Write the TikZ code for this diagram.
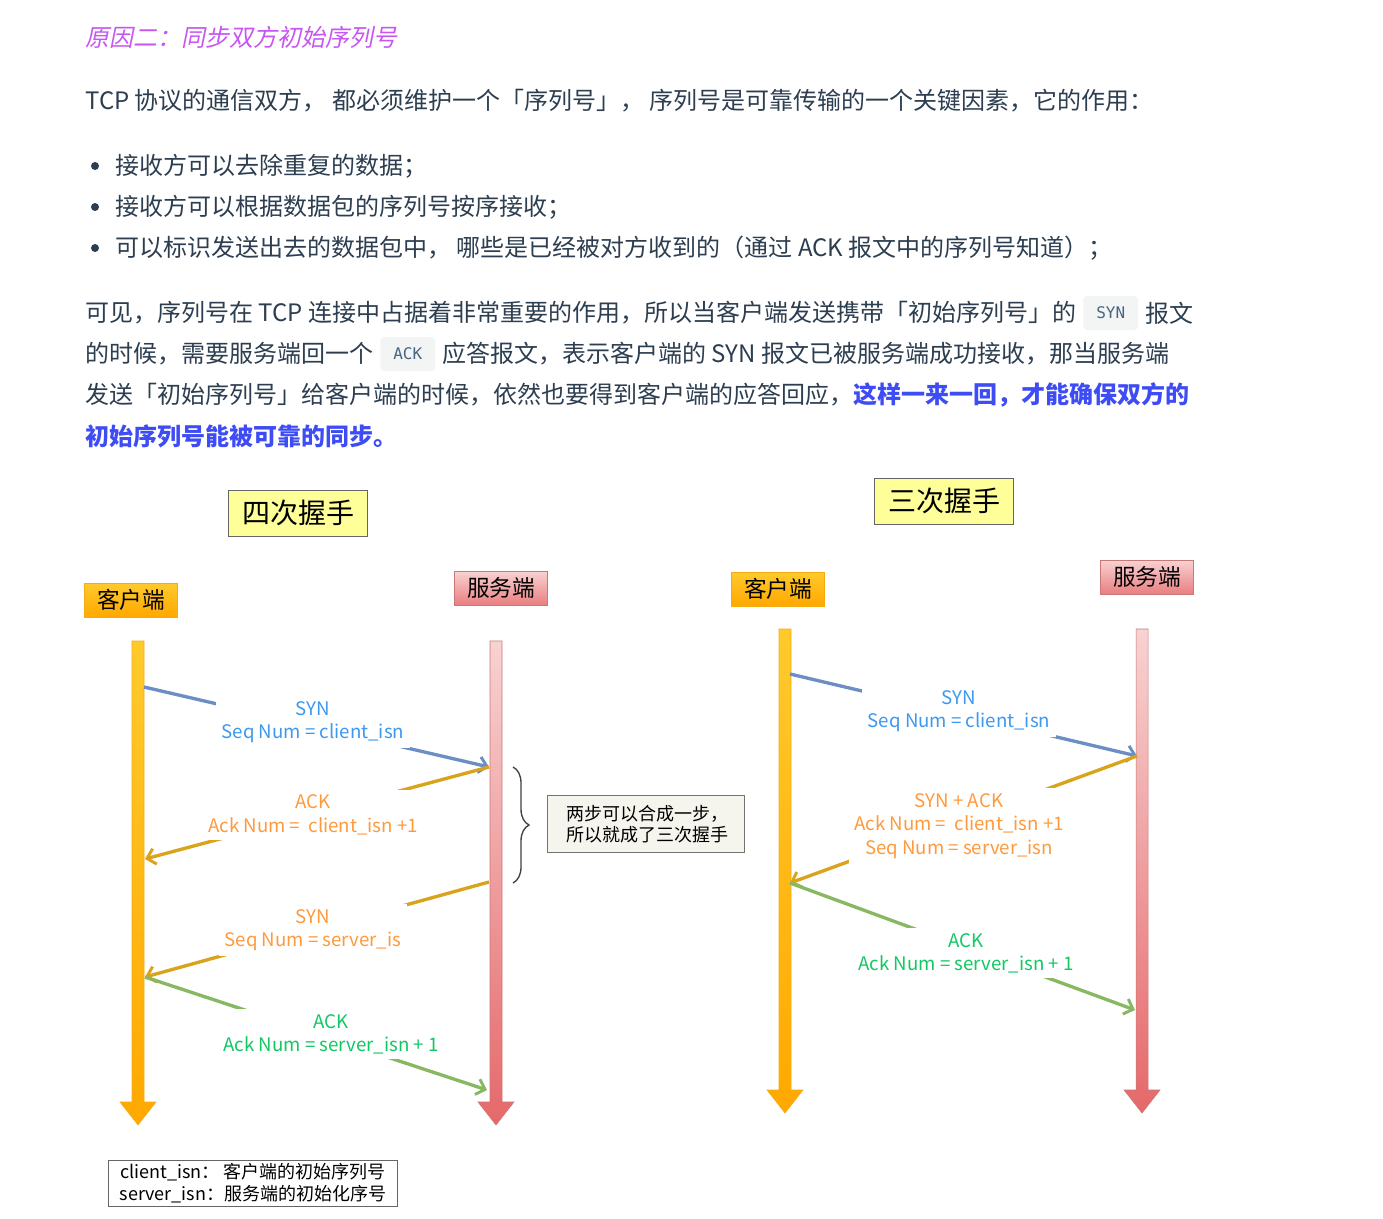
\documentclass[tikz,border=0pt]{standalone}
\usepackage{fontspec}
\setmainfont{Noto Sans CJK SC}
\newfontfamily\slantfont{Noto Sans CJK SC}[FakeSlant=0.2]
\newfontfamily\codefont{DejaVu Sans Mono}
\usetikzlibrary{positioning,arrows.meta,decorations.pathreplacing}

\definecolor{bodytext}{HTML}{2C3E50}
\definecolor{headpurple}{HTML}{C856F2}
\definecolor{strongblue}{HTML}{3E4CF5}
\definecolor{codetext}{HTML}{476582}
\definecolor{codebg}{HTML}{F3F4F4}
\definecolor{titleyellow}{HTML}{FFFF99}
\definecolor{notebg}{HTML}{F5F5EE}
\definecolor{synblue}{HTML}{6C8EC4}
\definecolor{msggold}{HTML}{D9A41C}
\definecolor{msggreen}{HTML}{88B862}
\definecolor{lblblue}{HTML}{3D98F0}
\definecolor{lblorange}{HTML}{FF9A3C}
\definecolor{lblgreen}{HTML}{12C863}
\definecolor{clienttop}{HTML}{FFCA2C}
\definecolor{clientbot}{HTML}{FFA800}
\definecolor{clientline}{HTML}{F2AE10}
\definecolor{servertop}{HTML}{F8D2D2}
\definecolor{serverbot}{HTML}{E5686A}
\definecolor{serverline}{HTML}{C97878}

\tikzset{
  body/.style={anchor=west, inner sep=0pt, text=bodytext, font=\fontsize{18}{21}\selectfont},
  code/.style={fill=codebg, rounded corners=3pt, text=codetext, inner sep=0pt,
    font=\codefont\fontsize{12}{14}\selectfont, minimum width=41pt, minimum height=25.5pt},
  titlebox/.style={draw=black!60, fill=titleyellow, font=\fontsize{21}{24}\selectfont,
    minimum width=104pt, minimum height=34.5pt, inner sep=0pt},
  clientbox/.style={draw=clientline, top color=clienttop, bottom color=clientbot,
    font=\fontsize{17}{20}\selectfont, minimum width=70pt, minimum height=25.5pt, inner sep=0pt},
  serverbox/.style={draw=serverline, top color=servertop, bottom color=serverbot!85!white,
    font=\fontsize{17}{20}\selectfont, minimum width=70pt, minimum height=25.5pt, inner sep=0pt},
  msg/.style={line width=2.5pt, -{Straight Barb[length=6pt, width=12pt, line width=2.2pt]}},
  lbl/.style={fill=white, align=center, inner xsep=4pt, inner ysep=4pt, font=\fontsize{14}{17.5}\selectfont},
  notebox/.style={draw=black!55, fill=notebg, align=left, font=\fontsize{13.5}{16}\selectfont,
    minimum width=148pt, minimum height=43pt, inner sep=0pt},
  legend/.style={draw=black!60, align=center, font=\fontsize{13.5}{16}\selectfont,
    minimum width=217pt, minimum height=34.5pt, inner sep=0pt}
}

% one time line: x, top, tip, top colour, bottom colour, border
\newcommand\timeline[6]{%
  \shade[top color=#4, bottom color=#5, draw=#6, line width=0.4pt]
    (#1-6,#2) -- (#1+6,#2) -- (#1+6,#3-23) -- (#1+18,#3-23) -- (#1,#3)
    -- (#1-18,#3-23) -- (#1-6,#3-23) -- cycle;}

\begin{document}
\begin{tikzpicture}[x=0.75pt, y=-0.75pt]
  \fill[white] (0,0) rectangle (1383,1219);
  \useasboundingbox (0,0) rectangle (1383,1219);

  % text above the diagram
  \node[anchor=west, inner sep=0pt, text=headpurple, font=\slantfont\fontsize{18}{21}\selectfont]
    (reason) at (85,37) {原因二：同步双方初始序列号};
  \node[body] (intro) at (85,101) {TCP 协议的通信双方， 都必须维护一个「序列号」， 序列号是可靠传输的一个关键因素，它的作用：};
  \foreach \y in {166,207,248}
    \fill[bodytext] (95,\y) circle (4);
  \node[body] (use1) at (115,166) {接收方可以去除重复的数据；};
  \node[body] (use2) at (115,207) {接收方可以根据数据包的序列号按序接收；};
  \node[body] (use3) at (115,248) {可以标识发送出去的数据包中， 哪些是已经被对方收到的（通过 ACK 报文中的序列号知道）；};

  \node[body] (para1) at (85,313) {可见，序列号在 TCP 连接中占据着非常重要的作用，所以当客户端发送携带「初始序列号」的};
  \node[code, right=5pt of para1] (synword) {SYN};
  \node[body, right=5pt of synword] (para1b) {报文};
  \node[body] (para2) at (85,354) {的时候，需要服务端回一个};
  \node[code, right=5pt of para2] (ackword) {ACK};
  \node[body, right=5pt of ackword] (para2b) {应答报文，表示客户端的 SYN 报文已被服务端成功接收，那当服务端};
  \node[body] (para3) at (85,395) {发送「初始序列号」给客户端的时候，依然也要得到客户端的应答回应，\textcolor{strongblue}{\bfseries 这样一来一回，才能确保双方的}};
  \node[body, text=strongblue, font=\bfseries\fontsize{18}{21}\selectfont] (para4) at (85,436) {初始序列号能被可靠的同步。};

  % headings and ends
  \node[titlebox] (four) at (298,513) {四次握手};
  \node[titlebox] (three) at (944,501) {三次握手};
  \node[clientbox] (lclient) at (131,600) {客户端};
  \node[serverbox] (lserver) at (501,588) {服务端};
  \node[clientbox] (rclient) at (778,589) {客户端};
  \node[serverbox] (rserver) at (1147,577) {服务端};

  % time lines
  \timeline{138}{641}{1125}{clienttop}{clientbot}{clientline}
  \timeline{496}{641}{1125}{servertop}{serverbot}{serverline}
  \timeline{785}{629}{1113}{clienttop}{clientbot}{clientline}
  \timeline{1142}{629}{1113}{servertop}{serverbot}{serverline}

  % four way handshake
  \coordinate (lc1) at (144,687);
  \coordinate (lc2) at (145,859);
  \coordinate (lc3) at (145,977);
  \coordinate (ls1) at (489,767);
  \coordinate (ls2) at (489,882);
  \coordinate (ls3) at (487,1090);
  \draw[msg, synblue] (lc1) -- (ls1);
  \draw[msg, msggold] (ls1) -- (lc2);
  \draw[msg, msggold] (ls2) -- (lc3);
  \draw[msg, msggreen] (lc3) -- (ls3);
  \node[lbl, text=lblblue] (lsyn) at (313,722) {SYN\\Seq Num = client\_isn};
  \node[lbl, text=lblorange] (lack) at (313,815) {ACK\\Ack Num = ~client\_isn +1};
  \node[lbl, text=lblorange] (lsyn2) at (313,930) {SYN\\Seq Num = server\_is};
  \node[lbl, text=lblgreen] (lack2) at (331,1034) {ACK\\Ack Num = server\_isn + 1};

  \draw[decorate, decoration={brace, amplitude=12pt}, line width=1pt, black!75] (513,767) -- (513,883);
  \node[notebox, anchor=west] (merge) at (547,824) {~两步可以合成一步，\\~所以就成了三次握手};

  % three way handshake
  \coordinate (rc1) at (790,674);
  \coordinate (rc2) at (790,883);
  \coordinate (rs1) at (1137,756);
  \coordinate (rs2) at (1135,1010);
  \draw[msg, synblue] (rc1) -- (rs1);
  \draw[msg, msggold] (rs1) -- (rc2);
  \draw[msg, msggreen] (rc2) -- (rs2);
  \node[lbl, text=lblblue] (rsyn) at (959,711) {SYN\\Seq Num = client\_isn};
  \node[lbl, text=lblorange] (rsynack) at (959,826) {SYN + ACK\\Ack Num = ~client\_isn +1\\Seq Num = server\_isn};
  \node[lbl, text=lblgreen] (rack) at (966,953) {ACK\\Ack Num = server\_isn + 1};

  \node[legend] (isn) at (253,1183) {client\_isn： 客户端的初始序列号\\server\_isn：服务端的初始化序号};
\end{tikzpicture}
\end{document}
